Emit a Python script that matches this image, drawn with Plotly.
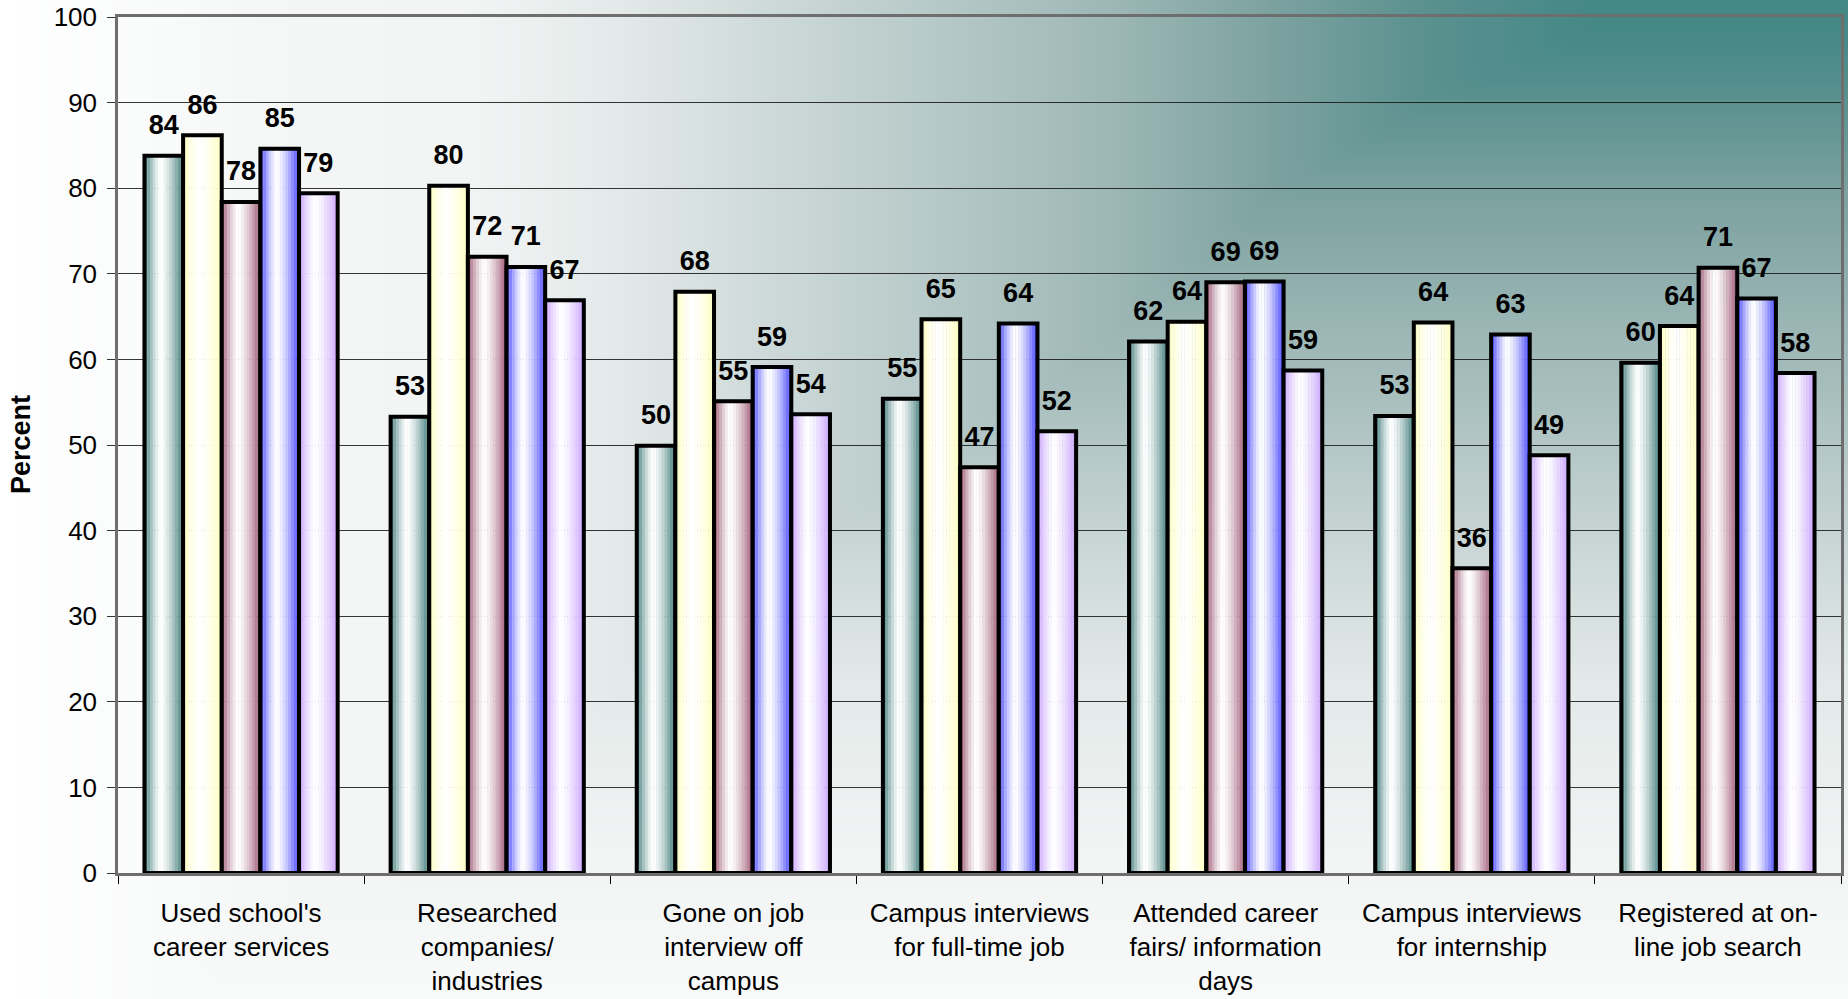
import numpy as np
import plotly.graph_objects as go

# ---------------- data ----------------
categories = [
    "Used school's<br>career services",
    "Researched<br>companies/<br>industries",
    "Gone on job<br>interview off<br>campus",
    "Campus interviews<br>for full-time job",
    "Attended career<br>fairs/ information<br>days",
    "Campus interviews<br>for internship",
    "Registered at on-<br>line job search",
]
series_names = ["Series 1", "Series 2", "Series 3", "Series 4", "Series 5"]
series1 = [83.8, 53.3, 49.9, 55.4, 62.1, 53.4, 59.6]
series2 = [86.2, 80.3, 67.9, 64.7, 64.4, 64.3, 63.9]
series3 = [78.4, 72.0, 55.1, 47.4, 69.0, 35.6, 70.7]
series4 = [84.6, 70.8, 59.1, 64.2, 69.1, 62.9, 67.1]
series5 = [79.4, 66.9, 53.6, 51.6, 58.7, 48.8, 58.4]
y_ticks = [0, 10, 20, 30, 40, 50, 60, 70, 80, 90, 100]

all_series = [series1, series2, series3, series4, series5]
edge_colors = [(58, 120, 118), (255, 255, 190), (156, 84, 112), (68, 68, 255), (200, 160, 255)]

FONT = "Liberation Sans, Arial, Helvetica, sans-serif"
W, H = 1848, 999

# plot rectangle (pixels)
PL, PR, PT, PB = 118, 1841, 17, 873

fig = go.Figure()

# ---------------- background gradient (decoration) ----------------
gx = np.linspace(0, W, 93)
gy = np.linspace(0, H, 51)
hx = np.interp(gx, [0, 300, 463, 1582, W], [-0.2, -0.03, 0.0, 1.0, 1.0])
vy = np.interp(gy, [0, 35, 100, 190, 380, 460, 560, 680, 780, 870, H],
               [1.0, 1.0, 0.86, 0.73, 0.53, 0.42, 0.28, 0.14, 0.07, 0.0, -0.1])
Z = np.minimum(hx[None, :], vy[:, None])


def n(z):
    return (z + 0.2) / 1.2


bg_scale = [
    [n(-0.2), "#ffffff"], [n(-0.03), "#f4f6f6"], [n(0.0), "#f3f5f5"],
    [n(1 / 7), "#e2e9e8"], [n(2 / 7), "#cbd8d7"], [n(3 / 7), "#b5c8c7"],
    [n(4 / 7), "#9eb8b7"], [n(5 / 7), "#7ea3a1"], [n(6 / 7), "#5b918f"],
    [n(1.0), "#458987"],
]
fig.add_trace(go.Heatmap(x=gx, y=gy, z=Z, zmin=-0.2, zmax=1.0, colorscale=bg_scale,
                         showscale=False, zsmooth="best", hoverinfo="skip",
                         xaxis="x", yaxis="y"))

# ---------------- bars ----------------
group_w = 0.785
bw = group_w / 5
NSTRIP = 14
peak = 0.42
xs = list(range(len(categories)))

for k, vals in enumerate(all_series):
    left = -group_w / 2 + k * bw
    er, eg, eb = edge_colors[k]
    sw = bw / NSTRIP
    for j in range(NSTRIP):
        u = (j + 0.5) / NSTRIP
        s = (peak - u) / peak if u < peak else (u - peak) / (1 - peak)
        s = min(1.0, max(0.0, s)) ** 1.4
        c = "rgb(%d,%d,%d)" % (round(255 + s * (er - 255)), round(255 + s * (eg - 255)),
                               round(255 + s * (eb - 255)))
        fig.add_trace(go.Bar(x=xs, y=vals, offset=left + j * sw,
                             width=sw * (1.08 if j < NSTRIP - 1 else 1.0),
                             marker=dict(color=c, line=dict(width=0)),
                             xaxis="x2", yaxis="y2", hoverinfo="skip", showlegend=False))
    fig.add_trace(go.Bar(x=xs, y=vals, offset=left, width=bw, name=series_names[k],
                         marker=dict(color="rgba(0,0,0,0)", line=dict(color="black", width=4)),
                         xaxis="x2", yaxis="y2", showlegend=False))

for k, vals in enumerate(all_series):
    left = -group_w / 2 + k * bw
    fig.add_trace(go.Scatter(
        x=[i + left + bw / 2 for i in xs], y=vals, mode="markers+text",
        marker=dict(size=22, color="rgba(0,0,0,0)", line=dict(width=0)),
        texttemplate="<b>%{y:.0f}</b>", textposition="top center",
        textfont=dict(family=FONT, size=27, color="black"),
        cliponaxis=False, hoverinfo="skip", showlegend=False,
        xaxis="x2", yaxis="y2"))

# ---------------- layout ----------------
fig.update_layout(
    width=W, height=H,
    margin=dict(l=0, r=0, t=0, b=0, pad=0),
    paper_bgcolor="white",
    plot_bgcolor="rgba(0,0,0,0)",
    barmode="overlay",
    showlegend=False,
    font=dict(family=FONT, color="black"),
    xaxis=dict(domain=[0, 1], range=[0, W], visible=False, fixedrange=True, automargin=False),
    yaxis=dict(domain=[0, 1], range=[H, 0], visible=False, fixedrange=True, automargin=False),
    xaxis2=dict(
        domain=[PL / W, PR / W], anchor="y2", range=[-0.5, len(categories) - 0.5],
        tickmode="array", tickvals=xs, ticktext=categories, ticks="",
        tickfont=dict(family=FONT, size=26, color="black"),
        ticklabelstandoff=15, automargin=False,
        minor=dict(tickmode="array", tickvals=[i - 0.5 for i in range(len(categories) + 1)],
                   ticks="outside", ticklen=8, tickcolor="black", tickwidth=1, showgrid=False),
        showgrid=False, zeroline=False,
        showline=True, linecolor="#6e6e6e", linewidth=2.5, mirror=True, fixedrange=True,
    ),
    yaxis2=dict(
        domain=[(H - PB) / H, (H - PT) / H], anchor="x2", range=[0, 100],
        tickmode="array", tickvals=y_ticks, ticks="outside", ticklen=8,
        tickcolor="#333333", tickwidth=1,
        tickfont=dict(family=FONT, size=26, color="black"),
        ticklabelstandoff=5, automargin=False,
        showgrid=True, gridcolor="rgba(20,20,20,0.85)", gridwidth=1, zeroline=False,
        showline=True, linecolor="#6e6e6e", linewidth=2.5, mirror=True, fixedrange=True,
    ),
    annotations=[dict(
        text="<b>Percent</b>", textangle=-90, showarrow=False,
        xref="paper", yref="paper", x=21 / W, y=((H - PB) / H + (H - PT) / H) / 2,
        xanchor="center", yanchor="middle",
        font=dict(family=FONT, size=27, color="black"),
    )],
)

fig.write_html("out.html", config={"displayModeBar": False},
               post_script="document.body.style.margin='0';document.body.style.overflow='hidden';")
